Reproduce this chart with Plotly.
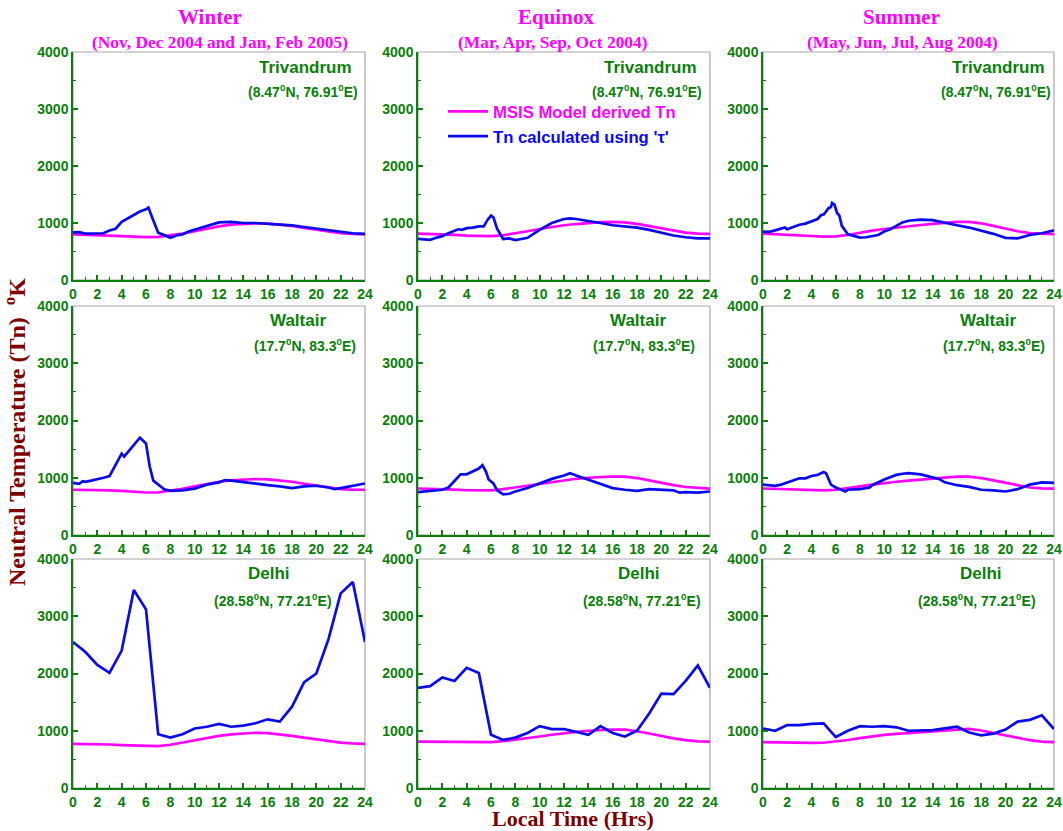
import plotly.graph_objects as go

# ---------------- data ----------------
hours = list(range(25))

# MSIS model derived Tn (hourly)
msis_win_tvm = [800,795,790,780,770,760,752,758,780,815,855,900,940,970,988,995,990,975,950,915,880,848,822,808,800]
msis_equ_tvm = [812,808,800,790,780,772,770,785,815,855,895,930,960,982,1000,1015,1020,1012,985,945,900,862,832,815,810]
msis_sum_tvm = [812,805,795,783,772,762,765,790,830,865,895,922,945,965,985,1005,1018,1020,995,950,900,855,822,808,805]
msis_win_wal = [790,790,788,780,770,755,742,745,770,808,850,892,930,955,970,978,972,955,930,895,860,825,800,790,790]
msis_equ_wal = [812,808,802,792,782,778,780,800,830,865,900,932,960,982,1000,1015,1022,1020,995,955,910,870,838,818,810]
msis_sum_wal = [812,806,800,790,782,780,790,815,848,880,908,930,950,970,990,1008,1020,1020,995,955,910,865,830,815,810]
msis_win_del = [770,770,768,760,750,740,730,730,755,795,840,878,910,937,956,965,958,938,910,880,848,815,792,778,772]
msis_equ_del = [810,808,803,797,792,790,800,818,842,870,900,930,958,980,1000,1015,1022,1018,992,952,908,868,836,816,810]
msis_sum_del = [800,795,790,788,788,790,810,838,870,900,928,945,960,975,992,1012,1030,1032,1005,962,915,870,835,810,800]

# Tn calculated using tau
t_win_tvm = [0,0.5,1,2,2.5,3,3.5,4,4.5,5,5.5,6,6.2,6.5,7,7.5,8,8.5,9,9.5,10,11,12,13,14,15,16,17,18,19,20,21,22,23,24]
tn_win_tvm = [835,840,815,825,820,870,900,1020,1080,1150,1200,1240,1270,1100,830,790,740,780,800,850,880,950,1010,1020,1000,1000,990,970,960,930,900,870,840,820,810]

t_equ_tvm = [0,1,1.5,2,2.5,3,3.3,3.6,4,4.5,5,5.4,5.7,6,6.2,6.5,7,7.5,8,8.5,9,10,11,12,12.5,13,14,15,16,17,18,19,20,21,22,23,24]
tn_equ_tvm = [720,705,740,770,820,870,890,880,910,920,940,940,1050,1130,1100,900,720,730,700,720,740,880,1000,1070,1080,1070,1040,1000,960,940,920,880,830,780,750,730,730]

t_sum_tvm = [0,0.5,1,1.5,1.8,2,2.5,3,3.5,4,4.5,4.8,5,5.2,5.4,5.6,5.7,5.9,6.1,6.3,6.5,7,7.5,8,8.5,9,9.5,10,10.5,11,11.5,12,13,14,15,16,17,18,19,20,21,22,23,24]
tn_sum_tvm = [850,845,870,900,920,890,930,970,990,1030,1070,1140,1150,1200,1260,1280,1350,1320,1180,1130,950,800,770,745,750,770,790,850,890,950,1010,1040,1060,1050,1000,960,920,870,810,740,730,790,820,870]

t_win_wal = [0,0.5,0.8,1,1.5,2,2.5,3,3.3,3.6,3.8,4,4.2,4.5,5,5.5,6,6.3,6.6,7,7.5,8,9,10,11,12,12.5,13,14,15,16,17,18,19,20,21,21.5,22,23,24]
tn_win_wal = [910,895,940,930,950,970,1000,1030,1150,1250,1350,1420,1370,1450,1580,1700,1600,1200,950,880,800,770,780,810,880,920,960,950,920,890,870,850,820,850,860,830,800,820,860,900]

t_equ_wal = [0,1,2,2.5,3,3.5,4,4.5,5,5.3,5.6,5.8,6.2,6.5,7,7.5,8,9,10,11,12,12.5,13,14,15,16,17,18,19,20,21,21.5,22,23,24]
tn_equ_wal = [750,770,790,830,950,1060,1060,1110,1160,1220,1100,970,900,780,710,720,760,820,900,980,1040,1080,1040,970,900,820,790,770,800,790,780,740,750,740,760]

t_sum_wal = [0,0.5,1,1.5,2,2.5,3,3.5,4,4.5,5,5.2,5.6,6,6.5,6.8,7,8,8.8,9,10,10.5,11,11.5,12,13,14,14.5,15,16,17,18,19,20,21,22,23,24]
tn_sum_wal = [880,870,860,880,920,960,990,990,1030,1050,1100,1080,880,830,780,760,790,800,830,870,970,1010,1050,1070,1080,1060,1000,980,920,870,840,790,780,760,800,880,920,910]

tn_win_del = [2550,2380,2150,2010,2400,3460,3120,940,880,940,1040,1070,1120,1070,1090,1130,1200,1160,1420,1850,2000,2600,3400,3600,2550]
tn_equ_del = [1750,1780,1930,1870,2100,2010,930,840,880,960,1080,1030,1030,980,930,1080,960,900,1000,1300,1650,1640,1870,2140,1750]
tn_sum_del = [1040,1000,1100,1100,1120,1130,890,1000,1080,1070,1080,1060,1000,1000,1010,1040,1070,970,920,950,1020,1160,1190,1270,1030]

seasons = ["Winter", "Equinox", "Summer"]
season_periods = ["(Nov, Dec 2004 and Jan, Feb 2005)", "(Mar, Apr, Sep, Oct 2004)", "(May, Jun, Jul, Aug 2004)"]
stations = ["Trivandrum", "Waltair", "Delhi"]
station_coords = ["(8.47<sup>0</sup>N, 76.91<sup>0</sup>E)", "(17.7<sup>0</sup>N, 83.3<sup>0</sup>E)", "(28.58<sup>0</sup>N, 77.21<sup>0</sup>E)"]
x_ticks = list(range(0, 25, 2))
y_ticks = [0, 1000, 2000, 3000, 4000]

# grid[row][col] = (msis, t_blue, tn_blue)
grid = [
    [(msis_win_tvm, t_win_tvm, tn_win_tvm), (msis_equ_tvm, t_equ_tvm, tn_equ_tvm), (msis_sum_tvm, t_sum_tvm, tn_sum_tvm)],
    [(msis_win_wal, t_win_wal, tn_win_wal), (msis_equ_wal, t_equ_wal, tn_equ_wal), (msis_sum_wal, t_sum_wal, tn_sum_wal)],
    [(msis_win_del, hours, tn_win_del), (msis_equ_del, hours, tn_equ_del), (msis_sum_del, hours, tn_sum_del)],
]

# ---------------- layout geometry ----------------
W, H = 1063, 831
col_px = [(73, 365), (418, 710), (763, 1054)]
row_px = [(52, 280), (306, 535), (559, 788)]
GREEN = "#0a800a"
MAG = "#ff00ff"
BLUE = "#0a0aee"
DRED = "#800000"
SANS = "Liberation Sans, Arial, sans-serif"
SERIF = "Liberation Serif, Times New Roman, serif"

fig = go.Figure()
layout = dict(width=W, height=H, margin=dict(l=0, r=0, t=0, b=0, autoexpand=False),
              paper_bgcolor="white", plot_bgcolor="white", showlegend=True)
shapes = []
annotations = []

idx = 0
for r in range(3):
    for c in range(3):
        idx += 1
        xa = "xaxis" if idx == 1 else f"xaxis{idx}"
        ya = "yaxis" if idx == 1 else f"yaxis{idx}"
        xr = "x" if idx == 1 else f"x{idx}"
        yr = "y" if idx == 1 else f"y{idx}"
        x0, x1 = col_px[c]
        y0, y1 = row_px[r]
        layout[xa] = dict(domain=[x0 / W, x1 / W], anchor=yr, range=[0, 24],
                          tickvals=x_ticks, showgrid=False, zeroline=False, automargin=False,
                          showline=True, linecolor=GREEN, linewidth=1.5,
                          ticks="inside", ticklen=5, tickcolor=GREEN, tickwidth=1.5,
                          minor=dict(dtick=1, ticks="inside", ticklen=3, tickcolor=GREEN, tickwidth=1),
                          tickfont=dict(family=SANS, size=14, color=GREEN, weight="bold"),
                          fixedrange=True)
        layout[ya] = dict(domain=[1 - y1 / H, 1 - y0 / H], anchor=xr, range=[0, 4000],
                          tickvals=y_ticks, showgrid=False, zeroline=False, automargin=False,
                          showline=True, linecolor=GREEN, linewidth=1.5,
                          ticks="inside", ticklen=5, tickcolor=GREEN, tickwidth=1.5,
                          minor=dict(dtick=500, ticks="inside", ticklen=3, tickcolor=GREEN, tickwidth=1),
                          tickfont=dict(family=SANS, size=14, color=GREEN, weight="bold"),
                          fixedrange=True)
        shapes.append(dict(type="rect", xref=f"{xr} domain", yref=f"{yr} domain",
                           x0=0, x1=1, y0=0, y1=1, line=dict(color="#a8a8a8", width=1.2),
                           layer="below"))
        msis, tb, tnb = grid[r][c]
        first = (idx == 1)
        fig.add_trace(go.Scatter(x=hours, y=msis, mode="lines", xaxis=xr, yaxis=yr,
                                 line=dict(color=MAG, width=2.7),
                                 name="<span style='color:#ff00ff'>MSIS Model derived Tn</span>",
                                 showlegend=first, legendrank=1))
        fig.add_trace(go.Scatter(x=tb, y=tnb, mode="lines", xaxis=xr, yaxis=yr,
                                 line=dict(color=BLUE, width=2.7),
                                 name="<span style='color:#0a0aee'>Tn calculated using '\u03c4'</span>",
                                 showlegend=first, legendrank=2))

# station labels (center x positions per row/col, px)
name_cx = [[305, 650, 998], [298, 638, 988], [269, 639, 981]]
coord_cx = [[303, 647, 996], [305, 644, 994], [273, 642, 977]]
name_y = [67, 320, 573]
coord_y = [91, 345, 600]
for r in range(3):
    for c in range(3):
        annotations.append(dict(text=stations[r], xref="paper", yref="paper",
                                x=name_cx[r][c] / W, y=1 - name_y[r] / H,
                                xanchor="center", yanchor="middle", showarrow=False,
                                font=dict(family=SANS, size=17, color=GREEN, weight="bold")))
        annotations.append(dict(text=station_coords[r], xref="paper", yref="paper",
                                x=coord_cx[r][c] / W, y=1 - coord_y[r] / H,
                                xanchor="center", yanchor="middle", showarrow=False,
                                font=dict(family=SANS, size=14, color=GREEN, weight="bold")))

# season titles
title_cx = [210, 556, 901]
sub_cx = [220, 553, 902]
for c in range(3):
    annotations.append(dict(text=seasons[c], xref="paper", yref="paper",
                            x=title_cx[c] / W, y=1 - 17 / H, xanchor="center", yanchor="middle",
                            showarrow=False, font=dict(family=SERIF, size=21, color=MAG, weight="bold")))
    annotations.append(dict(text=season_periods[c], xref="paper", yref="paper",
                            x=sub_cx[c] / W, y=1 - 42 / H, xanchor="center", yanchor="middle",
                            showarrow=False, font=dict(family=SERIF, size=17.4, color=MAG, weight="bold")))

# axis titles
annotations.append(dict(text="Local Time (Hrs)", xref="paper", yref="paper",
                        x=573 / W, y=1 - 818 / H, xanchor="center", yanchor="middle", showarrow=False,
                        font=dict(family=SERIF, size=22, color=DRED, weight="bold")))
annotations.append(dict(text="Neutral Temperature (Tn)  <sup>o</sup>K", xref="paper", yref="paper",
                        x=15 / W, y=1 - 432 / H, xanchor="center", yanchor="middle", showarrow=False,
                        textangle=-90,
                        font=dict(family=SERIF, size=24, color=DRED, weight="bold")))

layout["shapes"] = shapes
layout["annotations"] = annotations
layout["legend"] = dict(x=443 / W, y=1 - 94 / H, xanchor="left", yanchor="top",
                        bgcolor="rgba(0,0,0,0)", borderwidth=0,
                        font=dict(family=SANS, size=16.7, weight="bold"),
                        itemwidth=40, tracegroupgap=0)
fig.update_layout(**layout)
fig.write_html("out.html", config={"displayModeBar": False},
               post_script="document.body.style.margin='0';")
